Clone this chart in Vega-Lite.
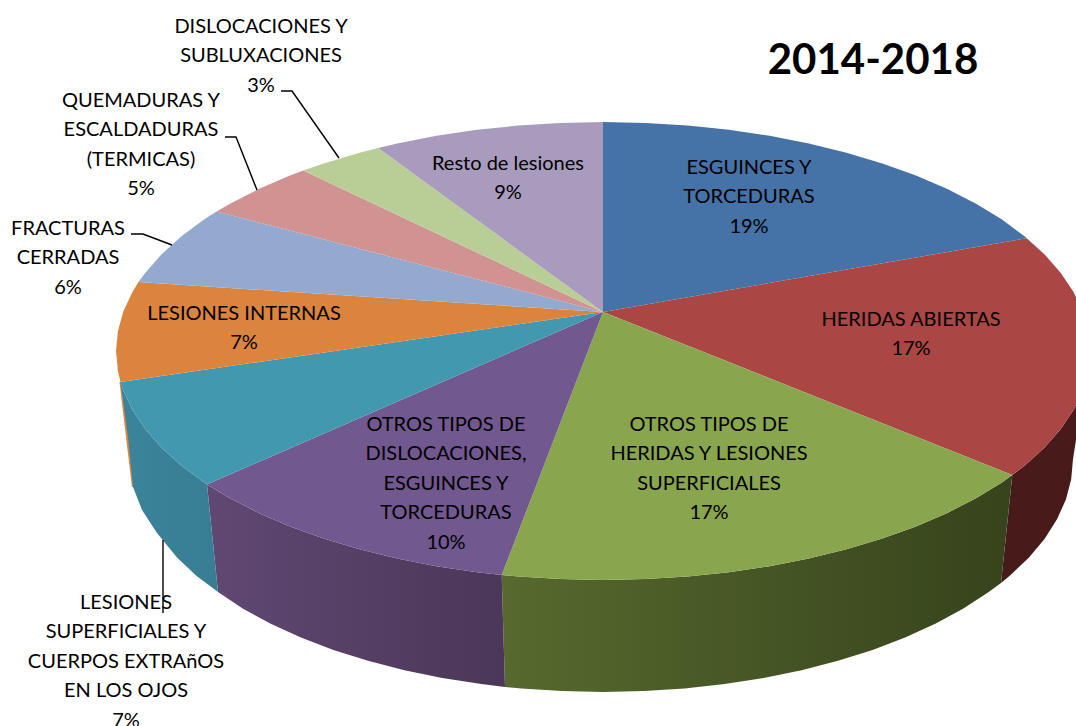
{"$schema":"https://vega.github.io/schema/vega-lite/v6.json","width":1076,"height":726,"padding":0,"autosize":{"type":"none"},"background":"white","projection":{"type":"identity","scale":1,"translate":[0,0]},
"datasets":{
"paredes":[
{"type":"Feature","properties":{"lesion":"LESIONES INTERNAS"},"geometry":{"type":"Polygon","coordinates":[[[119.5,382],[126,437],[132,487],[134,487],[129,437],[121,382],[119.5,382]]]}},
{"type":"Feature","properties":{"lesion":"HERIDAS ABIERTAS"},"geometry":{"type":"Polygon","coordinates":[[[1090,351],[1088.1,371],[1082.6,390.8],[1073.4,410.3],[1060.6,429.3],[1044.4,447.8],[1024.8,465.5],[1012.3,475],[1001,583],[1010,575.5],[1029,557.5],[1044.7,538.7],[1057,519.3],[1065.9,499.5],[1071.2,479.3],[1073,459],[1090,351]]]}},
{"type":"Feature","properties":{"lesion":"OTROS TIPOS DE HERIDAS Y LESIONES SUPERFICIALES"},"geometry":{"type":"Polygon","coordinates":[[[1012.3,475],[1002,482.4],[976,498.2],[947.4,512.9],[916,526.4],[882.3,538.6],[846.5,549.3],[808.8,558.5],[769.6,566.2],[729,572.2],[687.5,576.5],[645.5,579.1],[603,580],[560.5,579.1],[518.5,576.5],[501.7,575],[505,687],[521.4,688.5],[562,691.1],[603,692],[644,691.1],[684.6,688.5],[724.6,684],[763.7,677.9],[801.6,670.2],[838,660.8],[872.6,649.9],[905.1,637.5],[935.3,623.8],[963,608.8],[988,592.6],[1001,583],[1012.3,475]]]}},
{"type":"Feature","properties":{"lesion":"OTROS TIPOS DE DISLOCACIONES, ESGUINCES Y TORCEDURAS"},"geometry":{"type":"Polygon","coordinates":[[[501.7,575],[477,572.2],[436.4,566.2],[397.2,558.5],[359.5,549.3],[323.7,538.6],[290,526.4],[258.6,512.9],[230,498.2],[207,484.4],[218,592],[243,608.8],[270.7,623.8],[300.9,637.5],[333.4,649.9],[368,660.8],[404.4,670.2],[442.3,677.9],[481.4,684],[505,687],[501.7,575]]]}},
{"type":"Feature","properties":{"lesion":"LESIONES SUPERFICIALES Y CUERPOS EXTRAñOS EN LOS OJOS"},"geometry":{"type":"Polygon","coordinates":[[[207,484.4],[181.2,465.5],[161.6,447.8],[145.4,429.3],[132.6,410.3],[123.4,390.8],[120.5,382],[128,437],[133,487],[142,510],[157,533],[177,557.5],[196,575.5],[218,592],[207,484.4]]]}}
],
"caras":[
{"type":"Feature","properties":{"lesion":"ESGUINCES Y TORCEDURAS","porcentaje":19},"geometry":{"type":"Polygon","coordinates":[[[603,312],[603,122],[645.5,122.9],[687.5,125.5],[729,129.8],[769.6,135.8],[808.8,143.5],[846.5,152.7],[882.3,163.4],[916,175.6],[947.4,189.1],[976,203.8],[1002,219.6],[1024.8,236.5],[1026.7,238.2],[603,312]]]}},
{"type":"Feature","properties":{"lesion":"HERIDAS ABIERTAS","porcentaje":17},"geometry":{"type":"Polygon","coordinates":[[[603,312],[1026.7,238.2],[1044.4,254.2],[1060.6,272.7],[1073.4,291.7],[1082.6,311.2],[1088.1,331],[1090,351],[1088.1,371],[1082.6,390.8],[1073.4,410.3],[1060.6,429.3],[1044.4,447.8],[1024.8,465.5],[1012.3,475],[603,312]]]}},
{"type":"Feature","properties":{"lesion":"OTROS TIPOS DE HERIDAS Y LESIONES SUPERFICIALES","porcentaje":17},"geometry":{"type":"Polygon","coordinates":[[[603,312],[1012.3,475],[1002,482.4],[976,498.2],[947.4,512.9],[916,526.4],[882.3,538.6],[846.5,549.3],[808.8,558.5],[769.6,566.2],[729,572.2],[687.5,576.5],[645.5,579.1],[603,580],[560.5,579.1],[518.5,576.5],[501.7,575],[603,312]]]}},
{"type":"Feature","properties":{"lesion":"OTROS TIPOS DE DISLOCACIONES, ESGUINCES Y TORCEDURAS","porcentaje":10},"geometry":{"type":"Polygon","coordinates":[[[603,312],[501.7,575],[477,572.2],[436.4,566.2],[397.2,558.5],[359.5,549.3],[323.7,538.6],[290,526.4],[258.6,512.9],[230,498.2],[207,484.4],[603,312]]]}},
{"type":"Feature","properties":{"lesion":"LESIONES SUPERFICIALES Y CUERPOS EXTRAñOS EN LOS OJOS","porcentaje":7},"geometry":{"type":"Polygon","coordinates":[[[603,312],[207,484.4],[181.2,465.5],[161.6,447.8],[145.4,429.3],[132.6,410.3],[123.4,390.8],[120.5,382],[603,312]]]}},
{"type":"Feature","properties":{"lesion":"LESIONES INTERNAS","porcentaje":7},"geometry":{"type":"Polygon","coordinates":[[[603,312],[120.5,382],[117.9,371],[116,351],[117.9,331],[123.4,311.2],[132.6,291.7],[138.5,282.1],[603,312]]]}},
{"type":"Feature","properties":{"lesion":"FRACTURAS CERRADAS","porcentaje":6},"geometry":{"type":"Polygon","coordinates":[[[603,312],[138.5,282.1],[145.4,272.7],[161.6,254.2],[181.2,236.5],[204,219.6],[216.6,211.6],[603,312]]]}},
{"type":"Feature","properties":{"lesion":"QUEMADURAS Y ESCALDADURAS (TERMICAS)","porcentaje":5},"geometry":{"type":"Polygon","coordinates":[[[603,312],[216.6,211.6],[230,203.8],[258.6,189.1],[290,175.6],[303.2,170.5],[603,312]]]}},
{"type":"Feature","properties":{"lesion":"DISLOCACIONES Y SUBLUXACIONES","porcentaje":3},"geometry":{"type":"Polygon","coordinates":[[[603,312],[303.2,170.5],[323.7,163.4],[359.5,152.7],[378.2,147.9],[603,312]]]}},
{"type":"Feature","properties":{"lesion":"Resto de lesiones","porcentaje":9},"geometry":{"type":"Polygon","coordinates":[[[603,312],[378.2,147.9],[397.2,143.5],[436.4,135.8],[477,129.8],[518.5,125.5],[560.5,122.9],[603,122],[603,312]]]}}
],
"guias":[
{"type":"Feature","properties":{"lesion":"DISLOCACIONES Y SUBLUXACIONES"},"geometry":{"type":"LineString","coordinates":[[281,91],[292,91],[339,158]]}},
{"type":"Feature","properties":{"lesion":"QUEMADURAS Y ESCALDADURAS (TERMICAS)"},"geometry":{"type":"LineString","coordinates":[[225,137],[236,137],[257,190]]}},
{"type":"Feature","properties":{"lesion":"FRACTURAS CERRADAS"},"geometry":{"type":"LineString","coordinates":[[131,234],[143,234],[172,245]]}},
{"type":"Feature","properties":{"lesion":"LESIONES SUPERFICIALES Y CUERPOS EXTRAñOS EN LOS OJOS"},"geometry":{"type":"LineString","coordinates":[[163,540],[163,613]]}}
],
"rotulos":[
{"rotulo":"ESGUINCES Y\nTORCEDURAS\n19%","lon":749,"lat":168},
{"rotulo":"HERIDAS ABIERTAS\n17%","lon":911,"lat":320},
{"rotulo":"OTROS TIPOS DE\nHERIDAS Y LESIONES\nSUPERFICIALES\n17%","lon":709,"lat":425},
{"rotulo":"OTROS TIPOS DE\nDISLOCACIONES,\nESGUINCES Y\nTORCEDURAS\n10%","lon":446,"lat":425},
{"rotulo":"LESIONES\nSUPERFICIALES Y\nCUERPOS EXTRAñOS\nEN LOS OJOS\n7%","lon":126,"lat":603},
{"rotulo":"LESIONES INTERNAS\n7%","lon":244,"lat":314},
{"rotulo":"FRACTURAS\nCERRADAS\n6%","lon":68,"lat":229},
{"rotulo":"QUEMADURAS Y\nESCALDADURAS\n(TERMICAS)\n5%","lon":141,"lat":101},
{"rotulo":"DISLOCACIONES Y\nSUBLUXACIONES\n3%","lon":261,"lat":27},
{"rotulo":"Resto de lesiones\n9%","lon":508,"lat":164}
],
"periodo":[{"rotulo":"2014-2018","lon":873,"lat":61}]
},
"layer":[
{"data":{"name":"paredes"},"transform":[{"filter":{"field":"properties.lesion","equal":"LESIONES INTERNAS"}}],"mark":{"type":"geoshape","strokeWidth":0,"fill":"#db843d"},"encoding":{}},
{"data":{"name":"paredes"},"transform":[{"filter":{"field":"properties.lesion","equal":"HERIDAS ABIERTAS"}}],"mark":{"type":"geoshape","strokeWidth":0,"fill":"#471b19"},"encoding":{}},
{"data":{"name":"paredes"},"transform":[{"filter":{"field":"properties.lesion","equal":"OTROS TIPOS DE HERIDAS Y LESIONES SUPERFICIALES"}}],"mark":{"type":"geoshape","strokeWidth":0,"fill":{"gradient":"linear","x1":0,"x2":1,"y1":0,"y2":0,"stops":[{"offset":0,"color":"#57692e"},{"offset":1,"color":"#36431c"}]}},"encoding":{}},
{"data":{"name":"paredes"},"transform":[{"filter":{"field":"properties.lesion","equal":"OTROS TIPOS DE DISLOCACIONES, ESGUINCES Y TORCEDURAS"}}],"mark":{"type":"geoshape","strokeWidth":0,"fill":{"gradient":"linear","x1":0,"x2":1,"y1":0,"y2":0,"stops":[{"offset":0,"color":"#604873"},{"offset":1,"color":"#4b3757"}]}},"encoding":{}},
{"data":{"name":"paredes"},"transform":[{"filter":{"field":"properties.lesion","equal":"LESIONES SUPERFICIALES Y CUERPOS EXTRAñOS EN LOS OJOS"}}],"mark":{"type":"geoshape","strokeWidth":0,"fill":{"gradient":"linear","x1":0,"x2":1,"y1":0,"y2":0,"stops":[{"offset":0,"color":"#3b8499"},{"offset":1,"color":"#387d94"}]}},"encoding":{}},
{"data":{"name":"caras"},"mark":{"type":"geoshape","strokeWidth":0},
"encoding":{"fill":{"field":"properties.lesion","type":"nominal","legend":null,"sort":null,"scale":{
"domain":["ESGUINCES Y TORCEDURAS","HERIDAS ABIERTAS","OTROS TIPOS DE HERIDAS Y LESIONES SUPERFICIALES","OTROS TIPOS DE DISLOCACIONES, ESGUINCES Y TORCEDURAS","LESIONES SUPERFICIALES Y CUERPOS EXTRAñOS EN LOS OJOS","LESIONES INTERNAS","FRACTURAS CERRADAS","QUEMADURAS Y ESCALDADURAS (TERMICAS)","DISLOCACIONES Y SUBLUXACIONES","Resto de lesiones"],
"range":["#4572a7","#aa4643","#89a54e","#71588f","#4198af","#db843d","#93a9cf","#d19392","#b9cd96","#a99bbd"]}}}},
{"data":{"name":"guias"},"mark":{"type":"geoshape","filled":false,"stroke":"#000000","strokeWidth":1.4},"encoding":{}},
{"data":{"name":"rotulos"},"mark":{"type":"text","font":"Lato","fontSize":20,"lineBreak":"\n","lineHeight":29.4,"align":"center","baseline":"middle","color":"#000000"},
"encoding":{"longitude":{"field":"lon","type":"quantitative"},"latitude":{"field":"lat","type":"quantitative"},"text":{"field":"rotulo","type":"nominal"}}},
{"data":{"name":"periodo"},"mark":{"type":"text","font":"Lato","fontSize":42,"fontWeight":"bold","align":"center","baseline":"middle","color":"#000000"},
"encoding":{"longitude":{"field":"lon","type":"quantitative"},"latitude":{"field":"lat","type":"quantitative"},"text":{"field":"rotulo","type":"nominal"}}}
]}
